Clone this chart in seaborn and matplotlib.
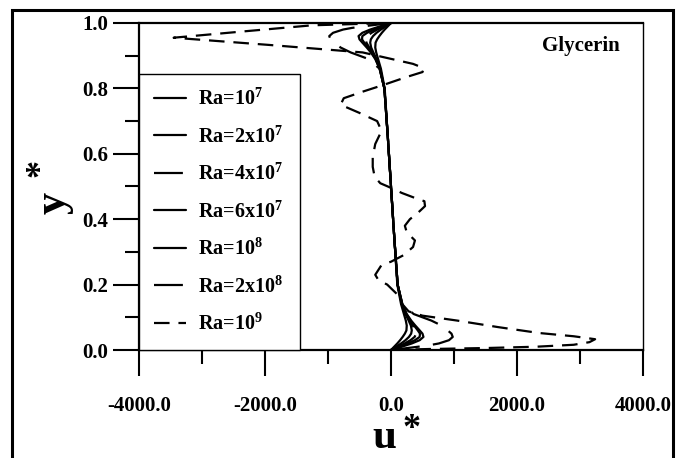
import matplotlib
matplotlib.use("Agg")
import matplotlib.pyplot as plt
import numpy as np
import pandas as pd
import seaborn as sns
from matplotlib.patches import Rectangle
from matplotlib.ticker import MultipleLocator, FormatStrFormatter

# ---- data: horizontal velocity profiles u* across the cavity height y* ----
ra_labels = ["Ra=10$^{7}$", "Ra=2x10$^{7}$", "Ra=4x10$^{7}$", "Ra=6x10$^{7}$",
             "Ra=10$^{8}$", "Ra=2x10$^{8}$", "Ra=10$^{9}$"]

y_profile = [0.0, 0.005, 0.01, 0.015, 0.02, 0.03, 0.04, 0.05, 0.06, 0.075, 0.09,
             0.11, 0.14, 0.2, 0.35, 0.5, 0.65, 0.8, 0.86, 0.89, 0.91, 0.925,
             0.94, 0.95, 0.96, 0.97, 0.98, 0.985, 0.99, 0.995, 1.0]

u_ra_1e7 = [0, 25, 50, 75, 100, 145, 185, 220, 245, 250, 235, 205, 160, 100, 50, 0,
            -50, -100, -160, -205, -235, -250, -245, -220, -185, -145, -100, -75, -50, -25, 0]
u_ra_2e7 = [0, 40, 80, 120, 160, 230, 285, 320, 330, 315, 280, 230, 170, 105, 50, 0,
            -50, -105, -170, -230, -280, -315, -330, -320, -285, -230, -160, -120, -80, -40, 0]
u_ra_4e7 = [0, 55, 110, 165, 215, 310, 375, 400, 390, 345, 295, 240, 175, 105, 50, 0,
            -50, -105, -175, -240, -295, -345, -390, -400, -375, -310, -215, -165, -110, -55, 0]
u_ra_6e7 = [0, 70, 140, 205, 265, 380, 455, 460, 425, 365, 310, 245, 180, 105, 50, 0,
            -50, -105, -180, -245, -310, -365, -425, -460, -455, -380, -265, -205, -140, -70, 0]
u_ra_1e8 = [0, 85, 170, 250, 330, 455, 515, 500, 455, 385, 320, 250, 180, 105, 50, 0,
            -50, -105, -180, -250, -320, -385, -455, -500, -515, -455, -330, -250, -170, -85, 0]
u_ra_2e8 = [0, 220, 430, 620, 760, 920, 980, 960, 900, 800, 640, 360, 180, 105, 50, 0,
            -50, -105, -180, -360, -640, -800, -900, -960, -980, -920, -760, -620, -430, -220, 0]

y_ra_1e9 = [0.0, 0.003, 0.006, 0.01, 0.016, 0.024, 0.033, 0.042, 0.052, 0.07, 0.09,
            0.105, 0.118, 0.14, 0.17, 0.2, 0.214, 0.23, 0.26, 0.27, 0.29, 0.315,
            0.335, 0.36, 0.38, 0.40, 0.42, 0.44, 0.455, 0.465, 0.48, 0.5, 0.51,
            0.53, 0.56, 0.59, 0.63, 0.67, 0.70, 0.725, 0.75, 0.77, 0.79, 0.81,
            0.835, 0.85, 0.862, 0.875, 0.91, 0.933, 0.955, 0.975, 0.993, 1.0]
u_ra_1e9 = [0, 600, 1500, 2300, 2900, 3150, 3240, 2900, 2350, 1700, 1050,
            500, 280, 180, 100, -60, -200, -250, -150, 0, 200, 350,
            380, 250, 220, 300, 430, 540, 530, 380, 175, -50, -170,
            -260, -290, -290, -250, -150, -220, -500, -800, -750, -450, -130,
            250, 500, 520, 350, -450, -1940, -3450, -2300, -1250, 0]

x_ticks = [-4000.0, -2000.0, 0.0, 2000.0, 4000.0]
y_ticks = [0.0, 0.2, 0.4, 0.6, 0.8, 1.0]

# ---- long-form table for seaborn ----
series = [(ra_labels[0], y_profile, u_ra_1e7),
          (ra_labels[1], y_profile, u_ra_2e7),
          (ra_labels[2], y_profile, u_ra_4e7),
          (ra_labels[3], y_profile, u_ra_6e7),
          (ra_labels[4], y_profile, u_ra_1e8),
          (ra_labels[5], y_profile, u_ra_2e8),
          (ra_labels[6], y_ra_1e9, u_ra_1e9)]
frames = []
for label, ys, us in series:
    frames.append(pd.DataFrame({"u": us, "y": ys, "Ra": label,
                                "order": np.arange(len(ys))}))
df = pd.concat(frames, ignore_index=True)

# ---- styling ----
sns.set_theme(style="white")
plt.rcParams["font.family"] = ["Liberation Serif", "DejaVu Serif"]
plt.rcParams["font.weight"] = "bold"
plt.rcParams["mathtext.fontset"] = "custom"
plt.rcParams["mathtext.rm"] = "Liberation Serif:bold"
plt.rcParams["mathtext.bf"] = "Liberation Serif:bold"
plt.rcParams["mathtext.it"] = "Liberation Serif:bold"
plt.rcParams["text.color"] = "black"
plt.rcParams["xtick.color"] = "black"
plt.rcParams["ytick.color"] = "black"

W, H = 691, 458
fig = plt.figure(figsize=(W / 100, H / 100), dpi=100)
ax = fig.add_axes([139 / W, 1 - 350 / H, (643 - 139) / W, (350 - 23) / H])

dash_map = {ra_labels[0]: "", ra_labels[1]: "", ra_labels[2]: (13, 4),
            ra_labels[3]: "", ra_labels[4]: "", ra_labels[5]: (13, 6),
            ra_labels[6]: (7, 4)}

sns.lineplot(data=df, x="u", y="y", hue="Ra", style="Ra", hue_order=ra_labels,
             style_order=ra_labels, palette=["black"] * 7, dashes=dash_map,
             sort=False, estimator=None, linewidth=1.6, ax=ax, legend=True)

ax.set_xlim(-4000, 4000)
ax.set_ylim(0, 1)
ax.set_xticks(x_ticks)
ax.set_yticks(y_ticks)
ax.xaxis.set_minor_locator(MultipleLocator(1000))
ax.yaxis.set_minor_locator(MultipleLocator(0.1))
ax.xaxis.set_major_formatter(FormatStrFormatter("%.1f"))
ax.yaxis.set_major_formatter(FormatStrFormatter("%.1f"))
ax.tick_params(axis="both", which="major", direction="out", length=19, width=1.5,
               labelsize=15, bottom=True, left=True, top=False, right=False)
ax.tick_params(axis="both", which="minor", direction="out", length=10, width=1.5,
               bottom=True, left=True, top=False, right=False)
ax.tick_params(axis="x", which="major", pad=14)
ax.tick_params(axis="y", which="major", pad=3)
for lab in ax.get_xticklabels() + ax.get_yticklabels():
    lab.set_fontweight("bold")
ax.set_xlabel("")
ax.set_ylabel("")

for side in ["left", "bottom", "top"]:
    ax.spines[side].set_visible(True)
    ax.spines[side].set_color("black")
    ax.spines[side].set_linewidth(1.6)
ax.spines["right"].set_visible(True)
ax.spines["right"].set_color("black")
ax.spines["right"].set_linewidth(1.0)

handles, labels = ax.get_legend_handles_labels()
leg = ax.legend(handles, labels, loc="lower left",
                bbox_to_anchor=(0, 0, (300 - 139) / 504, (350 - 74) / 327),
                mode="expand", borderaxespad=0, frameon=True, fancybox=False,
                framealpha=1, edgecolor="black", fontsize=14.5, handlelength=1.6,
                handletextpad=0.6, labelspacing=0.81, borderpad=0.75)
leg.get_frame().set_linewidth(1.0)
for t in leg.get_texts():
    t.set_fontweight("bold")

ax.text(0.954, 0.93, "Glycerin", transform=ax.transAxes, ha="right", va="center",
        fontsize=15, fontweight="bold")

# axis titles u* and y*
fig.text(384 / W, 1 - 448 / H, "u", fontsize=31, fontweight="bold",
         ha="center", va="baseline")
fig.text(412 / W, 1 - 429 / H, "*", fontsize=26, fontweight="bold",
         ha="center", va="center")
fig.text(54 / W, 1 - 203 / H, "y", fontsize=32, fontweight="bold", rotation=90,
         ha="center", va="center")
fig.text(41 / W, 1 - 168 / H, "*", fontsize=26, fontweight="bold", rotation=90,
         ha="center", va="center")

# outer frame around the figure
fig.patches.append(Rectangle((12 / W, -0.05), (673 - 12) / W, 1 - 10 / H + 0.05,
                             transform=fig.transFigure, fill=False,
                             edgecolor="black", linewidth=2.2, clip_on=False))

fig.savefig("out.png", dpi=100, facecolor="white")
